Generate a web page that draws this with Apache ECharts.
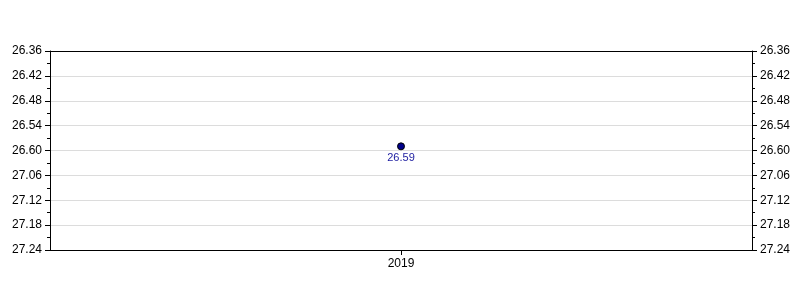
<!DOCTYPE html>
<html><head><meta charset="utf-8">
<script src="https://cdn.jsdelivr.net/npm/echarts@6/dist/echarts.min.js"></script>
<style>html,body{margin:0;padding:0;background:#fff}#c{width:800px;height:300px}</style>
</head><body><div id="c"></div>
<script>
const categories = ["2019"];
const times = [26.59];            // minutes.seconds as shown
const tickLabels = ["26.36","26.42","26.48","26.54","26.60","27.06","27.12","27.18","27.24"];
const axisMinSec = 26*60+36;
const axisMaxSec = 27*60+24;
const stepSec = 6;

function toSec(v){ const m = Math.floor(v); return m*60 + Math.round((v-m)*100); }
const data = times.map(toSec);
function fmt(val){ const i = Math.round((val-axisMinSec)/stepSec); return tickLabels[i] ?? ''; }

const font = 'Liberation Sans, Arial, sans-serif';
const yCommon = {
  type:'value', inverse:true, min:axisMinSec, max:axisMaxSec, interval:stepSec,
  axisLine:{show:true,lineStyle:{color:'#000'}},
  axisTick:{show:true,inside:false,length:5,lineStyle:{color:'#000'}},
  minorTick:{show:true,splitNumber:2,length:3,lineStyle:{color:'#000'}},
  axisLabel:{formatter:fmt,color:'#000',fontFamily:font,fontSize:12,margin:8},
};
const chart = echarts.init(document.getElementById('c'),null,{renderer:'canvas'});
chart.setOption({
  animation:false,
  grid:{left:50,right:48,top:51,bottom:50},
  xAxis:[{
    type:'category', data:categories, boundaryGap:true,
    axisLine:{show:true,lineStyle:{color:'#000'}},
    axisTick:{show:true,alignWithLabel:true,length:5,lineStyle:{color:'#000'}},
    axisLabel:{color:'#000',fontFamily:font,fontSize:12,margin:8}
  },{
    type:'category', data:categories, position:'top',
    axisLine:{show:true,lineStyle:{color:'#000'}},
    axisTick:{show:false}, axisLabel:{show:false}
  }],
  yAxis:[
    Object.assign({},yCommon,{position:'left',splitLine:{show:true,lineStyle:{color:'#dcdcdc'}}}),
    Object.assign({},yCommon,{position:'right',splitLine:{show:false}})
  ],
  series:[{
    type:'scatter', data:data, symbol:'circle', symbolSize:7,
    itemStyle:{color:'#00008b',borderColor:'#000',borderWidth:1,opacity:1},
    label:{show:true,position:'bottom',distance:2,formatter:(p)=>times[p.dataIndex].toFixed(2),
      color:'#1c1ca0',fontFamily:font,fontSize:11}
  }]
});
</script></body></html>
